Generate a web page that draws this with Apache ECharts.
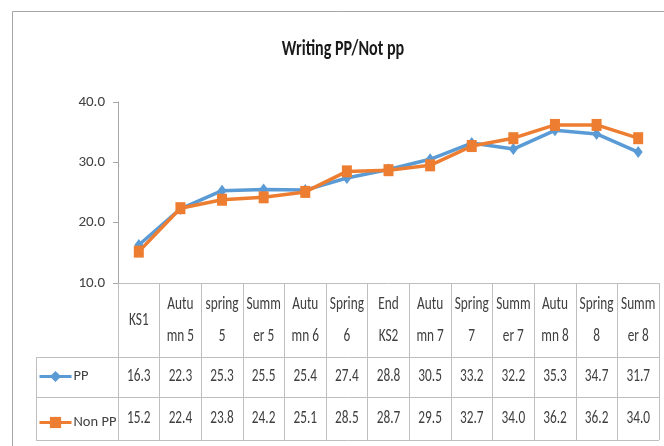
<!DOCTYPE html>
<html>
<head>
<meta charset="utf-8">
<script src="https://cdn.jsdelivr.net/npm/echarts@6/dist/echarts.min.js"></script>
<style>html,body{margin:0;padding:0;background:#fff}#c{width:664px;height:446px}</style>
</head>
<body>
<div id="c"></div>
<script>
const categories = ['KS1','Autumn 5','spring 5','Summer 5','Autumn 6','Spring 6','End KS2','Autumn 7','Spring 7','Summer 7','Autumn 8','Spring 8','Summer 8'];
const headerLabels = ['KS1','Autu\nmn 5','spring\n5','Summ\ner 5','Autu\nmn 6','Spring\n6','End\nKS2','Autu\nmn 7','Spring\n7','Summ\ner 7','Autu\nmn 8','Spring\n8','Summ\ner 8'];
const seriesNames = ['PP', 'Non PP'];
const ppValues = [16.3,22.3,25.3,25.5,25.4,27.4,28.8,30.5,33.2,32.2,35.3,34.7,31.7];
const nonPpValues = [15.2,22.4,23.8,24.2,25.1,28.5,28.7,29.5,32.7,34.0,36.2,36.2,34.0];
const yTicks = [10,20,30,40];
const titleText = 'Writing PP/Not pp';

const FONT = 'Carlito, Lato, sans-serif';
const TXT = '#404040';
const LINE = '#bfbfbf';
const SQUEEZE = 0.7;
const chart = echarts.init(document.getElementById('c'));
const gridLeft = 118, gridRight = 5, gridTop = 102, gridBottom = 163;
const axisY = 446 - gridBottom;
const tableLeft = 36, tableRight = 664 - gridRight;
const rowLines = [357, 397, 440];
const headerMid = (axisY + rowLines[0]) / 2;
const rowMids = [(rowLines[0] + rowLines[1]) / 2 - 0.5, (rowLines[1] + rowLines[2]) / 2];

chart.setOption({
  animation: false,
  legend: {
    orient: 'vertical', left: 38, top: 369, padding: 0, itemGap: 31, itemWidth: 32, itemHeight: 14,
    lineStyle: { width: 3 },
    textStyle: { fontFamily: FONT, fontSize: 14.5, color: TXT, padding: [0,0,0,-3] },
    data: seriesNames
  },
  grid: { left: gridLeft, right: gridRight, top: gridTop, bottom: gridBottom, containLabel: false },
  xAxis: {
    type: 'category', data: categories, boundaryGap: true,
    axisLine: { lineStyle: { color: LINE, width: 1 } },
    axisTick: { show: true, interval: 0, length: rowLines[2] - axisY, lineStyle: { color: LINE } },
    axisLabel: { show: false }
  },
  yAxis: {
    type: 'value', min: yTicks[0], max: yTicks[yTicks.length - 1], interval: 10,
    axisLine: { show: true, lineStyle: { color: '#a6a6a6' } },
    axisTick: { show: true, length: 5, lineStyle: { color: '#a6a6a6' } },
    splitLine: { show: false },
    axisLabel: { margin: 13, fontFamily: FONT, fontSize: 15, color: TXT, formatter: v => v.toFixed(1) }
  },
  series: [
    {
      name: seriesNames[0], type: 'line', data: ppValues,
      symbol: 'diamond', symbolSize: [9, 12], showAllSymbol: true,
      lineStyle: { color: '#5B9BD5', width: 3.5 }, itemStyle: { color: '#5B9BD5' }
    },
    {
      name: seriesNames[1], type: 'line', data: nonPpValues,
      symbol: 'rect', symbolSize: [10, 12], showAllSymbol: true,
      lineStyle: { color: '#ED7D31', width: 3.5 }, itemStyle: { color: '#ED7D31' }
    }
  ]
});

// data table under the axis, placed at the category centres given by the x axis scale
const cellText = (txt, x, y, extra) => Object.assign({
  type: 'text', x: x, y: y, scaleX: SQUEEZE, silent: true,
  style: { text: txt, fill: TXT, fontFamily: FONT, fontSize: 19, lineHeight: 32, align: 'center', verticalAlign: 'middle' }
}, extra || {});
const table = [];
categories.forEach((c, i) => {
  const x = chart.convertToPixel({ xAxisIndex: 0 }, c);
  table.push(cellText(headerLabels[i], x, headerMid));
  table.push(cellText(ppValues[i].toFixed(1), x, rowMids[0]));
  table.push(cellText(nonPpValues[i].toFixed(1), x, rowMids[1]));
});
chart.setOption({
  graphic: [
    { type: 'rect', shape: { x: 12.5, y: 11.5, width: 700, height: 500 }, style: { fill: 'none', stroke: '#a6a6a6', lineWidth: 1 }, silent: true, z: -1 },
    { type: 'text', x: 343, y: 49, scaleX: SQUEEZE, silent: true,
      style: { text: titleText, fill: '#1a1a1a', fontFamily: FONT, fontSize: 23, fontWeight: 'bold', align: 'center', verticalAlign: 'middle' } },
    ...rowLines.map(y => ({ type: 'line', shape: { x1: tableLeft, y1: y + 0.5, x2: tableRight, y2: y + 0.5 }, style: { stroke: LINE, lineWidth: 1 }, silent: true })),
    { type: 'line', shape: { x1: tableLeft + 0.5, y1: rowLines[0], x2: tableLeft + 0.5, y2: rowLines[2] }, style: { stroke: LINE, lineWidth: 1 }, silent: true },
    ...table
  ]
});
</script>
</body>
</html>
